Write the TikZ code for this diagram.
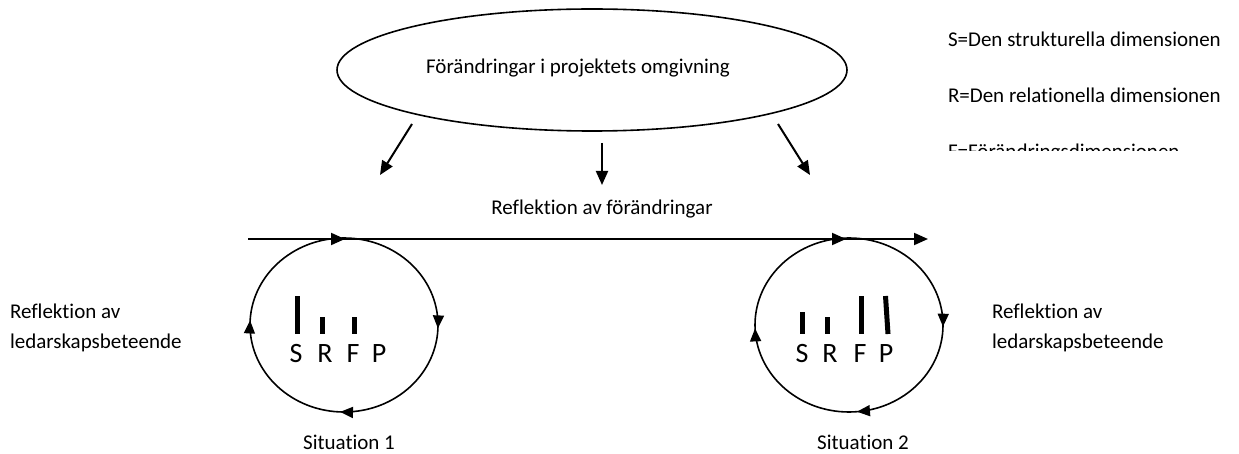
\documentclass[tikz,border=0pt]{standalone}
\usepackage{fontspec}
\setmainfont{Carlito}[Ligatures=NoCommon]
\usetikzlibrary{arrows.meta,decorations.markings,shapes.geometric}
\begin{document}
\begin{tikzpicture}[x=1pt,y=-1pt,
  txt/.style={font=\fontsize{21}{30}\selectfont, inner sep=0pt, outer sep=0pt},
  letter/.style={font=\fontsize{28}{30}\selectfont, inner sep=0pt, outer sep=0pt, anchor=base},
  conn/.style={line width=2pt, -{Triangle[length=14pt,width=12pt]}},
  bar/.style={line width=5pt},
  loopnode/.style={ellipse, minimum width=188pt, minimum height=174pt, inner sep=0pt, outer sep=0pt},
  loopline/.style={line width=1.6pt, postaction={decorate}},
]
\useasboundingbox (0,0) rectangle (1239,454);

% environment ellipse with its caption
\node[draw, line width=1.6pt, ellipse, minimum width=510pt, minimum height=122pt,
      inner sep=0pt, outer sep=0pt] (env) at (592,70) {};
\node[txt, anchor=base] (envtext) at (578,74) {Förändringar i projektets omgivning};

% three influence arrows
\coordinate (la) at (412,124);  \coordinate (lb) at (380,175);
\coordinate (ma) at (602,143);  \coordinate (mb) at (602,185);
\coordinate (ra) at (778,124);  \coordinate (rb) at (810,175);
\draw[conn] (la) -- (lb);
\draw[conn] (ma) -- (mb);
\draw[conn] (ra) -- (rb);

\node[txt, anchor=base] (refl) at (602,215) {Reflektion av förändringar};

% time line
\coordinate (tl) at (248,239);
\coordinate (tr) at (928,239);
\draw[line width=2pt, -{Triangle[length=14pt,width=12pt]},
      postaction={decorate},
      decoration={markings,
        mark=at position 97pt with {\arrow{Triangle[length=14pt,width=12pt]}},
        mark=at position 598pt with {\arrow{Triangle[length=14pt,width=12pt]}}}]
  (tl) -- (tr);

% situation loops
\node[loopnode] (c1) at (344,325) {};
\node[loopnode] (c2) at (849,325) {};
\draw[loopline, decoration={markings,
    mark=at position 0.256 with {\arrow{Triangle[length=13pt,width=11pt]}},
    mark=at position 0.507 with {\arrow{Triangle[length=13pt,width=11pt]}},
    mark=at position 0.758 with {\arrow{Triangle[length=13pt,width=11pt]}}}]
  (c1.north) arc[start angle=270, end angle=630, x radius=94, y radius=87];
\draw[loopline, decoration={markings,
    mark=at position 0.253 with {\arrow{Triangle[length=13pt,width=11pt]}},
    mark=at position 0.486 with {\arrow{Triangle[length=13pt,width=11pt]}},
    mark=at position 0.744 with {\arrow{Triangle[length=13pt,width=11pt]}}}]
  (c2.north) arc[start angle=270, end angle=630, x radius=94, y radius=87];

% dimension bars, situation 1
\draw[bar] (297,296) -- (297,334);
\draw[bar] (322,317) -- (322,334);
\draw[bar] (354,317) -- (354,334);
\node[letter] (s1) at (296,362) {S};
\node[letter] (r1) at (325,362) {R};
\node[letter] (f1) at (353,362) {F};
\node[letter] (p1) at (379,362) {P};

% dimension bars, situation 2
\draw[bar] (802,312) -- (802,334);
\draw[bar] (827,317) -- (827,334);
\draw[bar] (861,296) -- (861,334);
\draw[bar] (885.5,296) -- (888,334);
\node[letter] (s2) at (802,362) {S};
\node[letter] (r2) at (830,362) {R};
\node[letter] (f2) at (860,362) {F};
\node[letter] (p2) at (886,362) {P};

% side captions
\node[txt, anchor=north west, align=left] (lead1) at (10,303.5)
  {Reflektion av\\ledarskapsbeteende};
\node[txt, anchor=north west, align=left] (lead2) at (992,303.5)
  {Reflektion av\\ledarskapsbeteende};

\node[txt, anchor=base] (sit1) at (349,449) {Situation 1};
\node[txt, anchor=base] (sit2) at (863,449) {Situation 2};

% legend
\node[txt, anchor=base west] (legS) at (948,47) {S=Den strukturella dimensionen};
\node[txt, anchor=base west] (legR) at (948,103) {R=Den relationella dimensionen};
\begin{scope}
  \clip (940,0) rectangle (1239,151);
  \node[txt, anchor=base west] (legF) at (948,159) {F=Förändringsdimensionen};
\end{scope}
\end{tikzpicture}
\end{document}
